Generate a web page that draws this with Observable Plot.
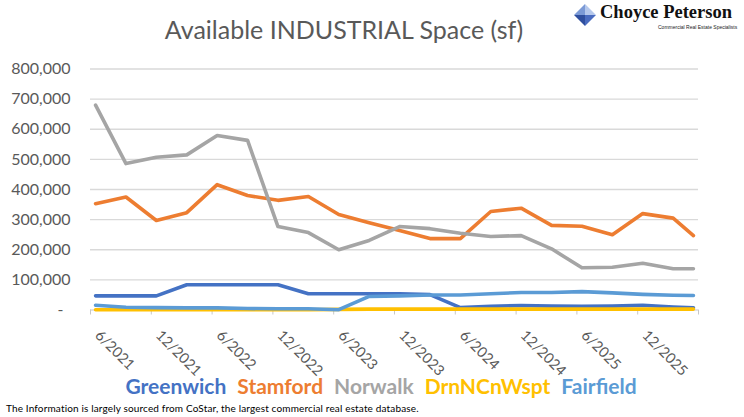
<!DOCTYPE html>
<html><head><meta charset="utf-8">
<script src="https://cdn.jsdelivr.net/npm/d3@7"></script>
<script src="https://cdn.jsdelivr.net/npm/@observablehq/plot@0.6"></script>
<style>
body{margin:0;background:#fff;width:744px;height:417px;overflow:hidden;position:relative;font-family:Lato,"Open Sans",sans-serif}
#title{position:absolute;left:0;width:688px;top:14px;text-align:center;font-size:25px;color:#595959;white-space:nowrap}
#chart{position:absolute;left:0;top:50px}
#legend{position:absolute;left:0;width:762px;top:373px;text-align:center;font-size:21px;font-weight:bold;white-space:nowrap}
#legend span{margin:0 5.5px}
#caption{position:absolute;left:6px;top:402px;font-size:10px;letter-spacing:0.15px;color:#000;white-space:nowrap}
#logo{position:absolute;left:574px;top:3px;width:170px;height:32px}
#logo .name{position:absolute;left:26px;top:-1px;font-family:"Liberation Serif","DejaVu Serif",serif;font-weight:bold;font-size:18.5px;color:#111;white-space:nowrap}
#logo .sub{position:absolute;left:84px;top:21px;font-family:"Liberation Sans",sans-serif;font-size:5px;color:#222;white-space:nowrap}
</style></head>
<body>
<div id="title">Available INDUSTRIAL Space (sf)</div>
<div id="logo">
<svg width="22" height="22" style="position:absolute;left:0;top:1px" viewBox="0 0 22 22">
<polygon points="11,0 0,11 11,11" fill="#7b9ad6"/>
<polygon points="11,0 22,11 11,11" fill="#b5c8ec"/>
<polygon points="0,11 11,22 11,11" fill="#2f4f9e"/>
<polygon points="22,11 11,22 11,11" fill="#4a6cc0"/>
</svg>
<div class="name">Choyce Peterson</div>
<div class="sub">Commercial Real Estate Specialists</div>
</div>
<div id="chart"></div>
<div id="legend"></div>
<div id="caption">The Information is largely sourced from CoStar, the largest commercial real estate database.</div>
<script>
const periods = ["6/2021","9/2021","12/2021","3/2022","6/2022","9/2022","12/2022","3/2023","6/2023","9/2023","12/2023","3/2024","6/2024","9/2024","12/2024","3/2025","6/2025","9/2025","12/2025","3/2026","5/2026"];
const greenwich = [47000,47000,47000,84000,84000,84000,84000,54000,54000,54000,54000,51000,8000,12000,15000,13000,12000,13000,16000,10000,7000];
const stamford = [353000,375000,297000,323000,416000,380000,364000,377000,317000,290000,264000,237000,237000,327000,338000,281000,278000,250000,320000,305000,247000];
const norwalk = [680000,486000,507000,515000,579000,563000,277000,257000,200000,231000,277000,270000,255000,244000,247000,203000,140000,142000,155000,137000,137000];
const drn = [1000,1000,1000,1000,1000,1000,1000,1000,2000,3000,3000,3000,3000,3000,3000,3000,3000,3000,3000,3000,3000];
const fairfield = [16000,9000,8000,7000,7000,5000,4000,4000,1000,45000,47000,50000,50000,54000,58000,58000,61000,57000,52000,49000,48000];
const seriesNames = ["Greenwich","Stamford","Norwalk","DrnNCnWspt","Fairfield"];
const seriesValues = [greenwich, stamford, norwalk, drn, fairfield];
const colors = ["#4472C4","#ED7D31","#A5A5A5","#FFC000","#5B9BD5"];
const xTickLabels = ["6/2021","12/2021","6/2022","12/2022","6/2023","12/2023","6/2024","12/2024","6/2025","12/2025"];
const yTicks = [0,100000,200000,300000,400000,500000,600000,700000,800000];

// month index relative to 6/2021, placed in the middle of the month
const monthIndex = s => { const [m, y] = s.split("/").map(Number); return (y - 2021) * 12 + (m - 6); };
const data = [];
seriesNames.forEach((name, i) => periods.forEach((p, j) => data.push({series: name, x: monthIndex(p) + 0.5, value: seriesValues[i][j]})));
const tickPos = d3.range(0, 61, 6);
const labelData = xTickLabels.map(l => ({label: l, x: monthIndex(l)}));

const chart = Plot.plot({
  width: 744, height: 320,
  marginTop: 18.5, marginBottom: 60.5, marginLeft: 90, marginRight: 46,
  style: {fontFamily: "Lato, 'Open Sans', sans-serif", background: "white", overflow: "visible"},
  x: {type: "linear", domain: [0, 60], label: null},
  y: {domain: [0, 800000], label: null},
  color: {domain: seriesNames, range: colors},
  marks: [
    Plot.gridY(yTicks.slice(1), {stroke: "#d9d9d9", strokeOpacity: 1, strokeWidth: 1.3}),
    Plot.ruleY([0], {stroke: "#d9d9d9", strokeWidth: 1.3}),
    Plot.axisX({ticks: tickPos, tickSize: 5, tickFormat: () => "", label: null, stroke: "#c8c8c8", strokeOpacity: 1}),
    Plot.axisY({ticks: yTicks.slice(1), tickSize: 0, tickPadding: 20, label: null, tickFormat: d3.format(","), fontSize: 16, fill: "#595959"}),
    Plot.axisY({ticks: [0], tickSize: 0, tickPadding: 27, label: null, tickFormat: () => "-", fontSize: 16, fill: "#595959"}),
    Plot.text(labelData, {x: "x", y: () => 0, text: "label", rotate: 45, textAnchor: "start", lineAnchor: "top", dx: 11, dy: 19, fontSize: 14.5, fill: "#595959"}),
    Plot.line(data, {x: "x", y: "value", z: "series", stroke: "series", strokeWidth: 3.6, strokeLinejoin: "round", strokeLinecap: "round"})
  ]
});
document.getElementById("chart").appendChild(chart);

const legend = document.getElementById("legend");
seriesNames.forEach((n, i) => { const s = document.createElement("span"); s.textContent = n; s.style.color = colors[i]; legend.appendChild(s); });
</script>
</body></html>
